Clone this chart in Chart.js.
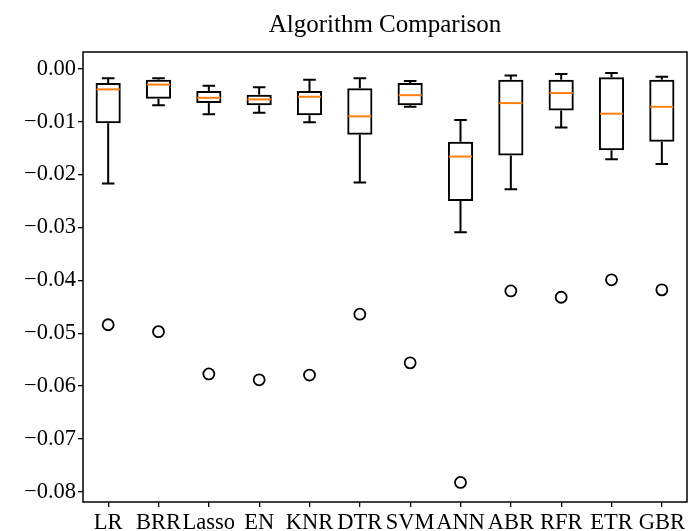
<!DOCTYPE html>
<html>
<head>
<meta charset="utf-8">
<script src="https://cdn.jsdelivr.net/npm/chart.js@4"></script>
<style>
html,body{margin:0;padding:0;background:#fff;}
#wrap{width:689px;height:531px;}
</style>
</head>
<body>
<div id="wrap"><canvas id="c" width="689" height="531"></canvas></div>
<script>
const categories = ["LR","BRR","Lasso","EN","KNR","DTR","SVM","ANN","ABR","RFR","ETR","GBR"];
const whiskerHigh = [-0.0018,-0.0018,-0.0032,-0.0035,-0.0021,-0.0018,-0.0023,-0.0097,-0.0013,-0.0010,-0.0008,-0.0015];
const q3 =          [-0.0027,-0.0021,-0.0042,-0.0049,-0.0042,-0.0037,-0.0027,-0.0138,-0.0021,-0.0021,-0.0016,-0.0021];
const medians =     [-0.0039,-0.0030,-0.0055,-0.0058,-0.0053,-0.0090,-0.0050,-0.0166,-0.0065,-0.0046,-0.0085,-0.0072];
const q1 =          [-0.0103,-0.0057,-0.0065,-0.0069,-0.0088,-0.0125,-0.0069,-0.0250,-0.0164,-0.0079,-0.0154,-0.0138];
const whiskerLow =  [-0.0217,-0.0069,-0.0086,-0.0083,-0.0101,-0.0215,-0.0072,-0.0309,-0.0228,-0.0111,-0.0171,-0.0180];
const outliers =    [-0.0484,-0.0497,-0.0577,-0.0588,-0.0579,-0.0464,-0.0556,-0.0782,-0.0420,-0.0432,-0.0399,-0.0418];
const yTickValues = [0,-0.01,-0.02,-0.03,-0.04,-0.05,-0.06,-0.07,-0.08];

const FONT = "'Liberation Serif','Times New Roman',serif";

const boxPlugin = {
  id: 'boxParts',
  afterDatasetsDraw(chart) {
    const ctx = chart.ctx;
    const xs = chart.scales.x, ys = chart.scales.y;
    const catW = xs.getPixelForValue(1) - xs.getPixelForValue(0);
    const capHalf = catW * 0.125;
    const boxHalf = catW * 0.25;
    ctx.save();
    ctx.lineCap = 'butt';
    for (let i = 0; i < categories.length; i++) {
      const x = xs.getPixelForValue(i);
      ctx.strokeStyle = '#000';
      ctx.lineWidth = 2;
      ctx.beginPath();
      ctx.moveTo(x, ys.getPixelForValue(q3[i]));
      ctx.lineTo(x, ys.getPixelForValue(whiskerHigh[i]));
      ctx.moveTo(x, ys.getPixelForValue(q1[i]));
      ctx.lineTo(x, ys.getPixelForValue(whiskerLow[i]));
      const yh = ys.getPixelForValue(whiskerHigh[i]);
      const yl = ys.getPixelForValue(whiskerLow[i]);
      ctx.moveTo(x - capHalf, yh); ctx.lineTo(x + capHalf, yh);
      ctx.moveTo(x - capHalf, yl); ctx.lineTo(x + capHalf, yl);
      ctx.stroke();
      const ym = ys.getPixelForValue(medians[i]);
      ctx.strokeStyle = '#ff7f0e';
      ctx.lineWidth = 2;
      ctx.beginPath();
      ctx.moveTo(x - boxHalf + 1, ym); ctx.lineTo(x + boxHalf - 1, ym);
      ctx.stroke();
    }
    const a = chart.chartArea;
    ctx.strokeStyle = '#000';
    ctx.lineWidth = 1.5;
    ctx.strokeRect(a.left, a.top, a.right - a.left, a.bottom - a.top);
    ctx.restore();
  }
};

new Chart(document.getElementById('c'), {
  type: 'bar',
  data: {
    labels: categories,
    datasets: [
      {
        type: 'bar',
        data: categories.map((c, i) => [q1[i], q3[i]]),
        backgroundColor: 'rgba(0,0,0,0)',
        borderColor: '#000',
        borderWidth: 2,
        borderSkipped: false,
        categoryPercentage: 1,
        barPercentage: 0.5,
        order: 2
      },
      {
        type: 'line',
        data: outliers,
        showLine: false,
        pointRadius: 5.5,
        pointBorderWidth: 1.8,
        pointBackgroundColor: 'rgba(0,0,0,0)',
        pointBorderColor: '#000',
        order: 1
      }
    ]
  },
  options: {
    responsive: false,
    animation: false,
    layout: { autoPadding: false, padding: { top: 0, right: 2, bottom: 0, left: 0 } },
    plugins: {
      legend: { display: false },
      tooltip: { enabled: false },
      title: {
        display: true,
        text: 'Algorithm Comparison',
        fullSize: false,
        color: '#000',
        font: { family: FONT, size: 25, weight: 'normal' },
        padding: { top: 10, bottom: 12 }
      }
    },
    scales: {
      x: {
        offset: true,
        grid: { display: true, offset: false, drawOnChartArea: false, drawTicks: true, tickLength: 5, color: '#000', lineWidth: 1.3 },
        border: { display: false },
        ticks: { color: '#000', font: { family: FONT, size: 22.5 }, padding: 3, maxRotation: 0, autoSkip: false },
        afterFit(scale) { scale.height = 29; scale.paddingLeft = 0; scale.paddingRight = 0; }
      },
      y: {
        min: -0.0819,
        max: 0.00316,
        grid: { display: true, drawOnChartArea: false, drawTicks: true, tickLength: 5, color: '#000', lineWidth: 1.3 },
        border: { display: false },
        afterBuildTicks(scale) { scale.ticks = yTickValues.map(v => ({ value: v })); },
        ticks: {
          color: '#000',
          font: { family: FONT, size: 22.5 },
          padding: 2,
          callback(v) {
            const s = Math.abs(v).toFixed(2);
            return (v < -1e-9 ? '\u2212' : '') + s;
          }
        },
        afterFit(scale) { scale.width = 83; scale.paddingTop = 0; scale.paddingBottom = 0; }
      }
    }
  },
  plugins: [boxPlugin]
});
</script>
</body>
</html>
